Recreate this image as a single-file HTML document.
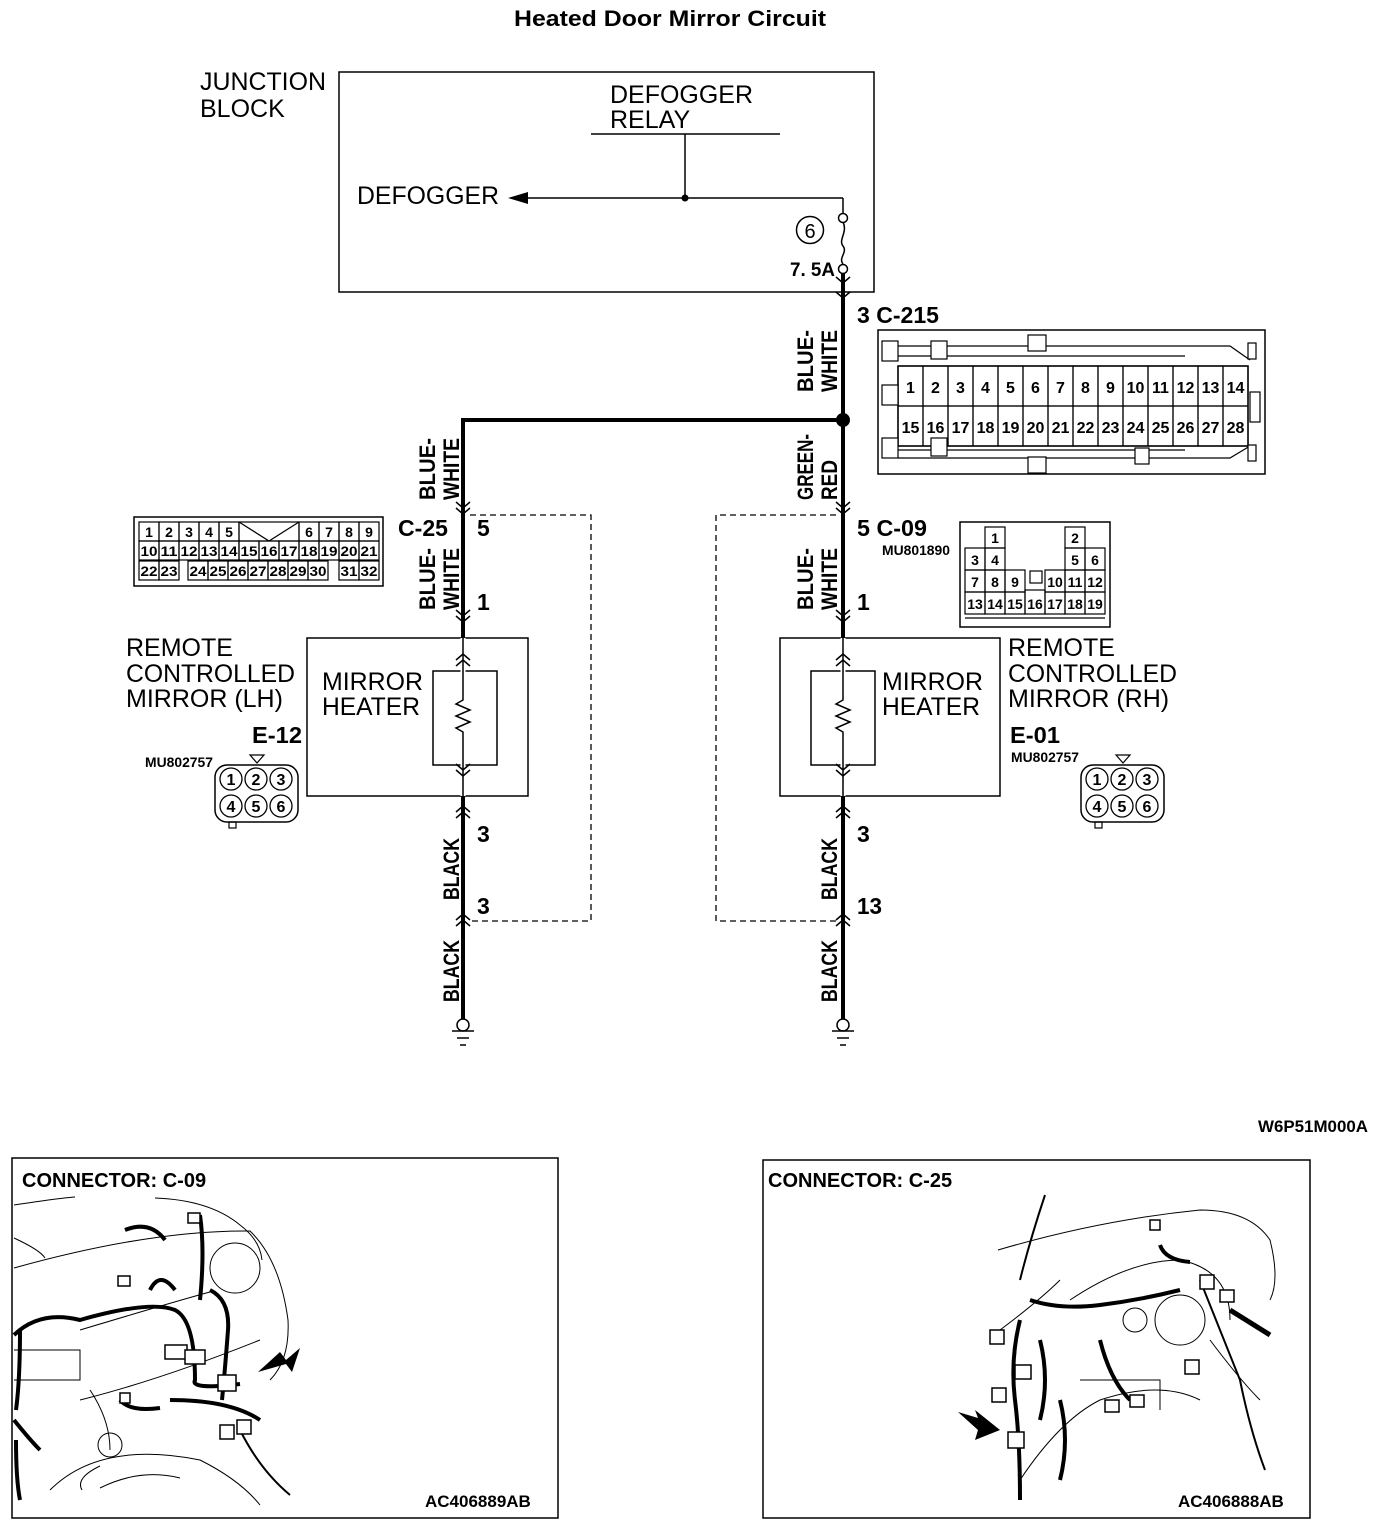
<!DOCTYPE html>
<html><head><meta charset="utf-8"><style>
html,body{margin:0;padding:0;background:#fff;}
svg{display:block;}
text{font-family:"Liberation Sans",sans-serif;fill:#000;}
.b{font-weight:bold;}
</style></head><body>
<svg id="s" width="1392" height="1528" viewBox="0 0 1392 1528" xmlns="http://www.w3.org/2000/svg">
<rect width="1392" height="1528" fill="#fff"/>
<text x="514" y="26" class="b" font-size="22" textLength="312" lengthAdjust="spacingAndGlyphs">Heated Door Mirror Circuit</text>

<!-- junction block -->
<g font-size="25">
<text x="200" y="90" textLength="126" lengthAdjust="spacingAndGlyphs">JUNCTION</text>
<text x="200" y="117">BLOCK</text>
</g>
<rect x="339" y="72" width="535" height="220" fill="none" stroke="#000" stroke-width="1.5"/>
<g font-size="25">
<text x="610" y="103" textLength="143" lengthAdjust="spacingAndGlyphs">DEFOGGER</text>
<text x="610" y="128">RELAY</text>
<text x="357" y="204" textLength="142" lengthAdjust="spacingAndGlyphs">DEFOGGER</text>
</g>
<line x1="591" y1="134" x2="780" y2="134" stroke="#000" stroke-width="1.5"/>
<line x1="685" y1="134" x2="685" y2="198" stroke="#000" stroke-width="1.5"/>
<line x1="522" y1="198" x2="843" y2="198" stroke="#000" stroke-width="1.5"/>
<line x1="843" y1="198" x2="843" y2="214" stroke="#000" stroke-width="1.5"/>
<circle cx="685" cy="198" r="3.5"/>
<polygon points="508,198 528,192 528,204"/>
<circle cx="843" cy="218" r="4.5" fill="#fff" stroke="#000" stroke-width="1.5"/>
<path d="M843 222 C848 232,838 240,843 246 C848 252,838 258,843 264" fill="none" stroke="#000" stroke-width="1.5"/>
<circle cx="843" cy="269" r="4.5" fill="#fff" stroke="#000" stroke-width="1.5"/>
<circle cx="810" cy="230" r="13.5" fill="none" stroke="#000" stroke-width="1.5"/>
<text x="810" y="238" font-size="20" text-anchor="middle">6</text>
<text x="790" y="276" class="b" font-size="19" textLength="45" lengthAdjust="spacingAndGlyphs">7. 5A</text>

<!-- main wires -->
<line x1="843" y1="274" x2="843" y2="1020" stroke="#000" stroke-width="4"/>
<line x1="463" y1="420" x2="845" y2="420" stroke="#000" stroke-width="4"/>
<line x1="463" y1="418" x2="463" y2="1020" stroke="#000" stroke-width="4"/>
<circle cx="843" cy="420" r="7"/>

<text x="857" y="323" class="b" font-size="23" textLength="82" lengthAdjust="spacingAndGlyphs">3 C-215</text>

<!-- rotated labels -->
<g class="b" font-size="22">
<text transform="translate(813,392) rotate(-90)" textLength="62" lengthAdjust="spacingAndGlyphs">BLUE-</text>
<text transform="translate(837,392) rotate(-90)" textLength="62" lengthAdjust="spacingAndGlyphs">WHITE</text>
<text transform="translate(435,500) rotate(-90)" textLength="62" lengthAdjust="spacingAndGlyphs">BLUE-</text>
<text transform="translate(459,500) rotate(-90)" textLength="62" lengthAdjust="spacingAndGlyphs">WHITE</text>
<text transform="translate(435,610) rotate(-90)" textLength="62" lengthAdjust="spacingAndGlyphs">BLUE-</text>
<text transform="translate(459,610) rotate(-90)" textLength="62" lengthAdjust="spacingAndGlyphs">WHITE</text>
<text transform="translate(813,500) rotate(-90)" textLength="66" lengthAdjust="spacingAndGlyphs">GREEN-</text>
<text transform="translate(837,500) rotate(-90)" textLength="40" lengthAdjust="spacingAndGlyphs">RED</text>
<text transform="translate(813,610) rotate(-90)" textLength="62" lengthAdjust="spacingAndGlyphs">BLUE-</text>
<text transform="translate(837,610) rotate(-90)" textLength="62" lengthAdjust="spacingAndGlyphs">WHITE</text>
<text transform="translate(459,900) rotate(-90)" textLength="62" lengthAdjust="spacingAndGlyphs">BLACK</text>
<text transform="translate(459,1002) rotate(-90)" textLength="62" lengthAdjust="spacingAndGlyphs">BLACK</text>
<text transform="translate(837,900) rotate(-90)" textLength="62" lengthAdjust="spacingAndGlyphs">BLACK</text>
<text transform="translate(837,1002) rotate(-90)" textLength="62" lengthAdjust="spacingAndGlyphs">BLACK</text>
</g>

<g class="b" font-size="23">
<text x="398" y="536" textLength="50" lengthAdjust="spacingAndGlyphs">C-25</text>
<text x="477" y="536">5</text>
<text x="477" y="610">1</text>
<text x="477" y="842">3</text>
<text x="477" y="914">3</text>
<text x="857" y="536" textLength="70" lengthAdjust="spacingAndGlyphs">5 C-09</text>
<text x="857" y="610">1</text>
<text x="857" y="842">3</text>
<text x="857" y="914" textLength="25" lengthAdjust="spacingAndGlyphs">13</text>
<text x="252" y="743" textLength="50" lengthAdjust="spacingAndGlyphs">E-12</text>
<text x="1010" y="743" textLength="50" lengthAdjust="spacingAndGlyphs">E-01</text>
</g>
<g class="b" font-size="14">
<text x="882" y="555" textLength="68" lengthAdjust="spacingAndGlyphs">MU801890</text>
<text x="145" y="767" textLength="68" lengthAdjust="spacingAndGlyphs">MU802757</text>
<text x="1011" y="762" textLength="68" lengthAdjust="spacingAndGlyphs">MU802757</text>
<text x="1258" y="1132" font-size="17" textLength="110" lengthAdjust="spacingAndGlyphs">W6P51M000A</text>
</g>

<!-- dashed boxes -->
<path d="M470 515 H591 V921 H470" fill="none" stroke="#000" stroke-width="1.3" stroke-dasharray="6,4"/>
<path d="M836 515 H716 V921 H836" fill="none" stroke="#000" stroke-width="1.3" stroke-dasharray="6,4"/>

<!-- component boxes -->
<rect x="307" y="638" width="221" height="158" fill="none" stroke="#000" stroke-width="1.5"/>
<rect x="433" y="671" width="64" height="94" fill="#fff" stroke="#000" stroke-width="1.5"/>
<rect x="780" y="638" width="220" height="158" fill="none" stroke="#000" stroke-width="1.5"/>
<rect x="811" y="671" width="64" height="94" fill="#fff" stroke="#000" stroke-width="1.5"/>
<line x1="463" y1="638" x2="463" y2="796" stroke="#fff" stroke-width="5"/>
<line x1="843" y1="638" x2="843" y2="796" stroke="#fff" stroke-width="5"/>
<path d="M463 638 V700 l-7 4 l14 6 l-14 6 l14 6 l-14 6 l7 4 V796" fill="none" stroke="#000" stroke-width="1.5"/>
<path d="M843 638 V700 l-7 4 l14 6 l-14 6 l14 6 l-14 6 l7 4 V796" fill="none" stroke="#000" stroke-width="1.5"/>
<g font-size="25">
<text x="322" y="690" textLength="101" lengthAdjust="spacingAndGlyphs">MIRROR</text><text x="322" y="715" textLength="98" lengthAdjust="spacingAndGlyphs">HEATER</text>
<text x="882" y="690" textLength="101" lengthAdjust="spacingAndGlyphs">MIRROR</text><text x="882" y="715" textLength="98" lengthAdjust="spacingAndGlyphs">HEATER</text>
<text x="126" y="656">REMOTE</text><text x="126" y="682" textLength="169" lengthAdjust="spacingAndGlyphs">CONTROLLED</text><text x="126" y="707">MIRROR (LH)</text>
<text x="1008" y="656">REMOTE</text><text x="1008" y="682" textLength="169" lengthAdjust="spacingAndGlyphs">CONTROLLED</text><text x="1008" y="707">MIRROR (RH)</text>
</g>

<!-- ground -->
<g stroke="#000" stroke-width="1.5" fill="#fff">
<circle cx="463" cy="1025" r="6"/><circle cx="843" cy="1025" r="6"/>
<line x1="452" y1="1031" x2="474" y2="1031"/><line x1="457" y1="1038" x2="469" y2="1038"/><line x1="460" y1="1045" x2="466" y2="1045"/>
<line x1="832" y1="1031" x2="854" y2="1031"/><line x1="837" y1="1038" x2="849" y2="1038"/><line x1="840" y1="1045" x2="846" y2="1045"/>
</g>

<g id="chev" fill="none" stroke="#000" stroke-width="1.5"></g>
<g id="conns"></g>

<!-- bottom frames -->
<rect x="12" y="1158" width="546" height="360" fill="none" stroke="#000" stroke-width="1.5"/>
<rect x="763" y="1160" width="547" height="358" fill="none" stroke="#000" stroke-width="1.5"/>
<text x="22" y="1187" class="b" font-size="20">CONNECTOR: C-09</text>
<text x="768" y="1187" class="b" font-size="20">CONNECTOR: C-25</text>
<text x="425" y="1507" class="b" font-size="17">AC406889AB</text>
<text x="1178" y="1507" class="b" font-size="17">AC406888AB</text>
<g fill="none" stroke="#000" stroke-width="1">
<path d="M14 1205 Q60 1198 75 1197"/><path d="M14 1238 Q40 1250 45 1258"/>
<path d="M14 1268 Q150 1230 250 1231 Q280 1260 288 1320 Q290 1360 270 1380"/>
<path d="M155 1198 Q210 1200 240 1225 Q260 1240 262 1260"/>
<path d="M80 1330 Q180 1300 210 1292"/><path d="M80 1400 Q160 1380 260 1340"/>
<path d="M90 1390 Q110 1420 110 1450"/><circle cx="235" cy="1268" r="25"/>
<path d="M14 1350 H80 V1380 H14"/><path d="M50 1490 Q100 1440 200 1460 Q240 1480 260 1505"/>
<path d="M100 1488 Q140 1468 180 1478"/><circle cx="110" cy="1445" r="12"/>
<path d="M82 1490 Q75 1478 100 1466"/>
</g>
<g fill="none" stroke="#000" stroke-width="4">
<path d="M14 1335 Q40 1310 80 1320 Q150 1300 175 1310 Q195 1320 195 1380 Q190 1390 240 1384"/>
<path d="M200 1215 Q205 1250 200 1300"/><path d="M150 1290 Q160 1270 175 1290"/>
<path d="M210 1290 Q230 1300 228 1330 Q225 1370 222 1400"/>
<path d="M170 1400 Q230 1400 260 1420"/><path d="M20 1330 Q20 1380 16 1410"/>
<path d="M14 1420 Q30 1440 40 1450"/><path d="M16 1440 Q16 1480 20 1500"/>
<path d="M240 1430 Q260 1470 290 1495" stroke-width="2"/>
<path d="M125 1230 Q150 1220 165 1240"/><path d="M120 1400 Q130 1412 160 1408"/>
</g>
<g fill="#fff" stroke="#000" stroke-width="1.5">
<rect x="165" y="1345" width="22" height="14"/><rect x="185" y="1350" width="20" height="14"/>
<rect x="218" y="1375" width="18" height="16"/><rect x="237" y="1420" width="14" height="14"/>
<rect x="220" y="1425" width="14" height="14"/><rect x="118" y="1276" width="12" height="10"/>
<rect x="188" y="1213" width="12" height="10"/><rect x="120" y="1393" width="10" height="10"/>
</g>
<polygon points="258,1372 280,1352 286,1360 300,1348 292,1372 286,1364" fill="#000"/>

<g fill="none" stroke="#000" stroke-width="1">
<path d="M998 1250 Q1100 1220 1200 1210 Q1250 1210 1270 1240 Q1280 1280 1270 1300"/>
<path d="M1070 1300 Q1130 1260 1180 1260 Q1230 1270 1230 1320"/>
<circle cx="1180" cy="1320" r="25"/><circle cx="1135" cy="1320" r="12"/>
<path d="M1000 1330 Q1040 1300 1060 1280"/><path d="M1020 1480 Q1060 1420 1100 1400 Q1160 1380 1200 1400"/>
<path d="M1080 1380 H1160 V1410"/><path d="M1210 1340 Q1240 1380 1260 1400"/>
</g>
<g fill="none" stroke="#000" stroke-width="4">
<path d="M1045 1195 Q1030 1240 1020 1280" stroke-width="2"/>
<path d="M1030 1300 Q1060 1310 1100 1305 Q1140 1300 1180 1290"/>
<path d="M1020 1320 Q1010 1360 1015 1400 Q1020 1440 1020 1500"/>
<path d="M1040 1340 Q1050 1380 1040 1420"/><path d="M1060 1400 Q1070 1440 1060 1480"/>
<path d="M1200 1280 Q1220 1330 1240 1380 Q1250 1430 1265 1470" stroke-width="2"/>
<path d="M1100 1340 Q1110 1380 1130 1400"/><path d="M1160 1245 Q1165 1260 1190 1262"/>
<path d="M1230 1310 L1270 1335" stroke-width="5"/>
</g>
<g fill="#fff" stroke="#000" stroke-width="1.5">
<rect x="990" y="1330" width="14" height="14"/><rect x="992" y="1388" width="14" height="14"/>
<rect x="1008" y="1432" width="16" height="16"/><rect x="1015" y="1365" width="16" height="14"/>
<rect x="1105" y="1400" width="14" height="12"/><rect x="1130" y="1395" width="14" height="12"/>
<rect x="1185" y="1360" width="14" height="14"/><rect x="1200" y="1275" width="14" height="14"/>
<rect x="1220" y="1290" width="14" height="12"/><rect x="1150" y="1220" width="10" height="10"/>
</g>
<polygon points="958,1412 978,1418 975,1410 1000,1430 975,1440 978,1430" fill="#000"/>
</svg>
<script>
(function(){
var NS="http://www.w3.org/2000/svg";
var ch=document.getElementById('chev'),cn=document.getElementById('conns');
function el(tag,at,par,txt){var e=document.createElementNS(NS,tag);for(var k in at)e.setAttribute(k,at[k]);if(txt!==undefined)e.textContent=txt;(par||cn).appendChild(e);return e;}
function V(x,y,up){var d=up?-1:1;el('path',{d:'M'+(x-7)+' '+(y-6*d)+' L'+x+' '+y+' L'+(x+7)+' '+(y-6*d)},ch);}
function pair(x,y,up){V(x,y,up);V(x,y+(up?-6:6),up);}
[[843,283],[843,298]].forEach(function(p){V(p[0],p[1],false);});
pair(463,508,false);pair(843,508,false);
pair(463,616,false);pair(843,616,false);
pair(463,660,true);pair(843,660,true);
pair(463,770,false);pair(843,770,false);
pair(463,812,true);pair(843,812,true);
pair(463,920,true);pair(843,920,true);
// C-215
el('rect',{x:878,y:330,width:387,height:144,fill:'none',stroke:'#000','stroke-width':1.5});
el('rect',{x:898,y:366,width:350,height:80,fill:'none',stroke:'#000','stroke-width':1.5});
var cw=25,x0=898;
for(var i=0;i<14;i++){
 el('rect',{x:x0+i*cw,y:366,width:cw,height:40,fill:'none',stroke:'#000','stroke-width':1.2});
 el('rect',{x:x0+i*cw,y:406,width:cw,height:40,fill:'none',stroke:'#000','stroke-width':1.2});
 el('text',{x:x0+i*cw+cw/2,y:393,'font-size':16,'font-weight':'bold','text-anchor':'middle'},cn,String(i+1));
 el('text',{x:x0+i*cw+cw/2,y:433,'font-size':16,'font-weight':'bold','text-anchor':'middle'},cn,String(i+15));
}
el('path',{d:'M898 346 H1230 L1250 360 M898 356 H1185 M898 450 H1185 M898 458 H1230 L1250 446',fill:'none',stroke:'#000','stroke-width':1.2});
[[882,341,16,20],[931,341,16,18],[1028,335,18,16],[882,385,16,20],[882,438,16,20],[931,438,16,18],[1135,448,14,16],[1028,457,18,16],[1248,343,8,16],[1248,445,8,16],[1250,392,10,30]].forEach(function(r){el('rect',{x:r[0],y:r[1],width:r[2],height:r[3],fill:'#fff',stroke:'#000','stroke-width':1.2});});
// C-25
el('rect',{x:134,y:517,width:249,height:69,fill:'none',stroke:'#000','stroke-width':1.5});
var cx0=139,w=20;
function cell(x,y,ww,t){el('rect',{x:x,y:y,width:ww,height:19,fill:'none',stroke:'#000','stroke-width':1.2});var a={x:x+ww/2,y:y+15,'font-size':14,'font-weight':'bold','text-anchor':'middle'};if(t.length>1){a.textLength=ww-3;a.lengthAdjust='spacingAndGlyphs';}el('text',a,cn,t);}
['1','2','3','4','5'].forEach(function(t,i){cell(cx0+i*w,522,w,t);});
el('path',{d:'M239 522 L269 541 L299 522',fill:'none',stroke:'#000','stroke-width':1.2});
el('rect',{x:239,y:522,width:60,height:19,fill:'none',stroke:'#000','stroke-width':1.2});
['6','7','8','9'].forEach(function(t,i){cell(299+i*w,522,w,t);});
['10','11','12','13','14','15','16','17','18','19','20','21'].forEach(function(t,i){cell(cx0+i*w,541,w,t);});
cell(139,561,20,'22');cell(159,561,20,'23');
['24','25','26','27','28','29','30'].forEach(function(t,i){cell(188+i*20,561,20,t);});
cell(339,561,20,'31');cell(359,561,20,'32');
// C-09
el('rect',{x:960,y:522,width:150,height:105,fill:'none',stroke:'#000','stroke-width':1.5});
function c9(x,y,ww,hh,t){el('rect',{x:x,y:y,width:ww,height:hh,fill:'none',stroke:'#000','stroke-width':1.2});if(t)el('text',{x:x+ww/2,y:y+hh-5,'font-size':14,'font-weight':'bold','text-anchor':'middle'},cn,t);}
c9(985,527,20,21,'1');c9(1065,527,20,21,'2');
c9(965,548,20,22,'3');c9(985,548,20,22,'4');c9(1065,548,20,22,'5');c9(1085,548,20,22,'6');
c9(965,570,20,22,'7');c9(985,570,20,22,'8');c9(1005,570,20,22,'9');c9(1045,570,20,22,'10');c9(1065,570,20,22,'11');c9(1085,570,20,22,'12');
c9(965,592,20,22,'13');c9(985,592,20,22,'14');c9(1005,592,20,22,'15');c9(1025,590,20,24,'16');c9(1045,592,20,22,'17');c9(1065,592,20,22,'18');c9(1085,592,20,22,'19');
c9(1030,571,12,12,'');
el('line',{x1:965,y1:618,x2:1105,y2:618,stroke:'#000','stroke-width':1.2});
function six(x,y){
 el('rect',{x:x,y:y,width:83,height:57,rx:12,fill:'none',stroke:'#000','stroke-width':1.5});
 el('polygon',{points:(x+35)+','+(y-10)+' '+(x+49)+','+(y-10)+' '+(x+42)+','+(y-2),fill:'none',stroke:'#000','stroke-width':1.2});
 el('rect',{x:x+14,y:y+57,width:7,height:6,fill:'none',stroke:'#000','stroke-width':1.2});
 for(var i=0;i<6;i++){var cx=x+16+(i%3)*25,cy=y+14+Math.floor(i/3)*27;
  el('circle',{cx:cx,cy:cy,r:11,fill:'#fff',stroke:'#000','stroke-width':1.3});
  el('text',{x:cx,y:cy+6,'font-size':16,'font-weight':'bold','text-anchor':'middle'},cn,String(i+1));}
}
six(215,765);six(1081,765);
})();
</script>
</body></html>
